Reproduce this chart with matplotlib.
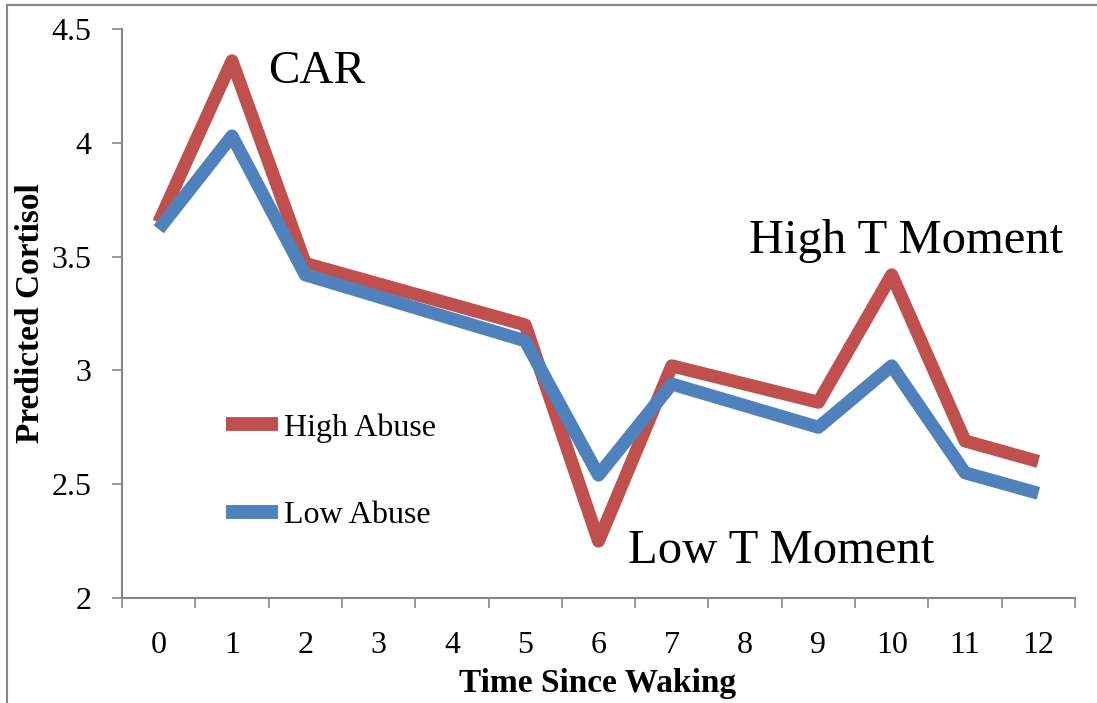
import matplotlib
matplotlib.use("Agg")
import matplotlib.pyplot as plt
from matplotlib.lines import Line2D

# hours since waking where the curves have a vertex
time_pts = [0, 1, 2, 5, 6, 7, 9, 10, 11, 12]
high_abuse = [3.65, 4.36, 3.47, 3.20, 2.25, 3.02, 2.86, 3.42, 2.69, 2.60]
low_abuse = [3.62, 4.03, 3.42, 3.13, 2.54, 2.94, 2.75, 3.02, 2.55, 2.46]
x_ticklabels = [str(i) for i in range(13)]
y_ticks = [2, 2.5, 3, 3.5, 4, 4.5]
y_ticklabels = ["2", "2.5", "3", "3.5", "4", "4.5"]

RED = "#C0504D"
BLUE = "#4F81BD"
GRAY = "#868686"
SERIF = ["Liberation Serif", "DejaVu Serif"]

plt.rcParams["font.family"] = SERIF

W, H = 1097, 703
fig = plt.figure(figsize=(W / 100, H / 100), dpi=100)
ax = fig.add_axes([122 / W, 1 - 598 / H, (1075 - 122) / W, (598 - 29) / H])

# outer chart frame (only left and top visible in the crop)
fig.add_artist(Line2D([7 / W, 7 / W], [0, 1 - 5 / H], transform=fig.transFigure,
                      color=GRAY, lw=1.5))
fig.add_artist(Line2D([7 / W, 1], [1 - 5 / H, 1 - 5 / H], transform=fig.transFigure,
                      color=GRAY, lw=1.5))

ax.plot(time_pts, high_abuse, color=RED, lw=9.4, solid_joinstyle="round",
        solid_capstyle="butt", label="High Abuse")
ax.plot(time_pts, low_abuse, color=BLUE, lw=9.4, solid_joinstyle="round",
        solid_capstyle="butt", label="Low Abuse")

ax.set_xlim(-0.5, 12.5)
ax.set_ylim(2, 4.5)
ax.set_xticks(range(13))
ax.set_xticklabels(x_ticklabels)
ax.set_xticks([i - 0.5 for i in range(14)], minor=True)
ax.set_yticks(y_ticks)
ax.set_yticklabels(y_ticklabels)
ax.tick_params(axis="x", which="major", length=0, pad=24, labelsize=23)
ax.tick_params(axis="x", which="minor", length=7, width=1.2, color=GRAY, direction="out")
ax.tick_params(axis="y", length=7, width=1.2, color=GRAY, direction="out", pad=15,
               labelsize=23)

for side in ["top", "right"]:
    ax.spines[side].set_visible(False)
for side in ["left", "bottom"]:
    ax.spines[side].set_color(GRAY)
    ax.spines[side].set_linewidth(1.5)

# axis titles placed at the reference pixel positions
fig.text(598 / W, 1 - 692 / H, "Time Since Waking", fontsize=24, fontweight="bold",
         ha="center", va="baseline")
fig.text(31 / W, 1 - 313 / H, "Predicted Cortisol", fontsize=24, fontweight="bold",
         ha="center", va="center", rotation=90)

ax.text(1.49, 4.263, "CAR", fontsize=34, ha="left", va="baseline")
ax.text(10.19, 3.516, "High T Moment", fontsize=35, ha="center", va="baseline")
ax.text(8.49, 2.154, "Low T Moment", fontsize=35, ha="center", va="baseline")

leg = ax.legend(loc="center left", bbox_to_anchor=(0.109, 0.222), frameon=False,
                fontsize=23, handlelength=1.63, handletextpad=0.19, labelspacing=1.83,
                borderaxespad=0, borderpad=0)
for h in leg.get_lines():
    h.set_linewidth(10)
    h.set_solid_capstyle("butt")

fig.savefig("out.png", dpi=100)
